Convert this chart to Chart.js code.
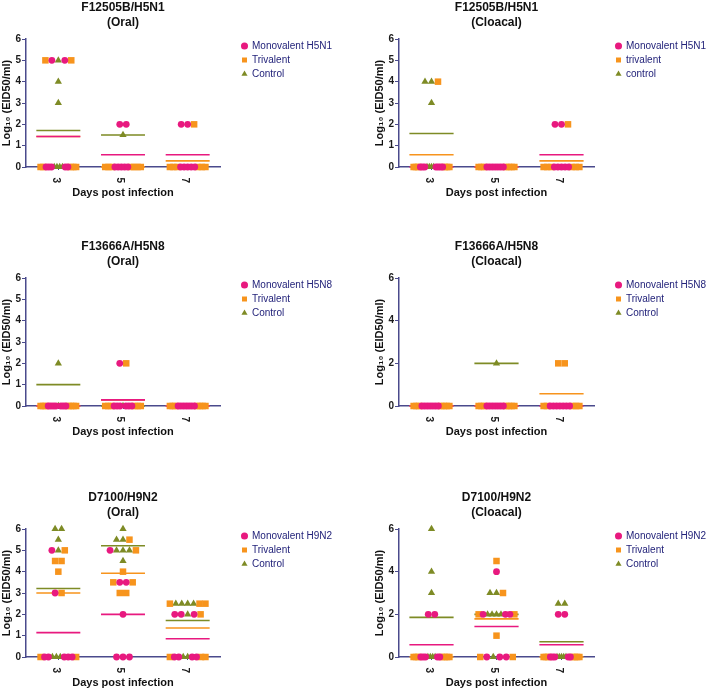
<!DOCTYPE html>
<html>
<head>
<meta charset="utf-8">
<script src="https://cdn.jsdelivr.net/npm/chart.js@4/dist/chart.umd.min.js"></script>
<style>
html,body{margin:0;padding:0;background:#fff;width:708px;height:690px;overflow:hidden;}
.panel{position:absolute;width:354px;height:200px;}
canvas{display:block;}
</style>
</head>
<body>
<div class="panel" style="left:0;top:0"><canvas id="p0" width="354" height="200"></canvas></div>
<div class="panel" style="left:354px;top:0"><canvas id="p1" width="354" height="200"></canvas></div>
<div class="panel" style="left:0;top:239px"><canvas id="p2" width="354" height="200"></canvas></div>
<div class="panel" style="left:354px;top:239px"><canvas id="p3" width="354" height="200"></canvas></div>
<div class="panel" style="left:0;top:490px"><canvas id="p4" width="354" height="200"></canvas></div>
<div class="panel" style="left:354px;top:490px"><canvas id="p5" width="354" height="200"></canvas></div>
<script>
// ---------------- data ----------------
const DAYS = [3, 5, 7];
const Y_TICKS_FULL = [0, 1, 2, 3, 4, 5, 6];
const Y_TICKS_EVEN = [0, 2, 4, 6];
const X_TITLE = 'Days post infection';
const Y_TITLE = 'Log\u2081\u2080 (EID50/ml)';

const TITLES = ['F12505B/H5N1', 'F12505B/H5N1', 'F13666A/H5N8', 'F13666A/H5N8', 'D7100/H9N2', 'D7100/H9N2'];
const ROUTES = ['(Oral)', '(Cloacal)', '(Oral)', '(Cloacal)', '(Oral)', '(Cloacal)'];

const LEGEND_H5N1_ORAL = ['Monovalent H5N1', 'Trivalent', 'Control'];
const LEGEND_H5N1_CLOACAL = ['Monovalent H5N1', 'trivalent', 'control'];
const LEGEND_H5N8 = ['Monovalent H5N8', 'Trivalent', 'Control'];
const LEGEND_H9N2 = ['Monovalent H9N2', 'Trivalent', 'Control'];

// values per bird, grouped by day [day 3, day 5, day 7]
const h5n1OralMono = [[5, 5, 0, 0, 0, 0, 0], [2, 2, 0, 0, 0, 0, 0], [2, 2, 0, 0, 0, 0, 0]];
const h5n1OralTri  = [[5, 5, 0, 0, 0, 0, 0], [0, 0, 0, 0, 0, 0, 0], [2, 0, 0, 0, 0, 0, 0]];
const h5n1OralCtrl = [[5, 4, 3, 0, 0, 0, 0], [1.5], []];

const h5n1CloacalMono = [[0, 0, 0, 0, 0, 0, 0], [0, 0, 0, 0, 0, 0, 0], [2, 2, 0, 0, 0, 0, 0]];
const h5n1CloacalTri  = [[4, 0, 0, 0, 0, 0, 0], [0, 0, 0, 0, 0, 0, 0], [2, 0, 0, 0, 0, 0, 0]];
const h5n1CloacalCtrl = [[4, 4, 3, 0, 0, 0, 0], [], []];

const h5n8OralMono = [[0, 0, 0, 0, 0, 0, 0], [2, 0, 0, 0, 0, 0, 0], [0, 0, 0, 0, 0, 0, 0]];
const h5n8OralTri  = [[0, 0, 0, 0, 0, 0, 0], [2, 0, 0, 0, 0, 0, 0], [0, 0, 0, 0, 0, 0, 0]];
const h5n8OralCtrl = [[2, 0], [0], []];

const h5n8CloacalMono = [[0, 0, 0, 0, 0, 0, 0], [0, 0, 0, 0, 0, 0, 0], [0, 0, 0, 0, 0, 0, 0]];
const h5n8CloacalTri  = [[0, 0, 0, 0, 0, 0, 0], [0, 0, 0, 0, 0, 0, 0], [2, 2, 0, 0, 0, 0, 0]];
const h5n8CloacalCtrl = [[], [2], []];

const h9n2OralMono = [[5, 3, 0, 0, 0, 0, 0], [5, 3.5, 3.5, 2, 0, 0, 0], [2, 2, 2, 0, 0, 0, 0]];
const h9n2OralTri  = [[5, 4.5, 4.5, 4, 3, 0, 0], [5.5, 5, 4, 3.5, 3.5, 3, 3], [2.5, 2.5, 2.5, 2, 0, 0, 0]];
const h9n2OralCtrl = [[6, 6, 5.5, 5, 0, 0, 0], [6, 5.5, 5.5, 5, 5, 5, 4.5], [2.5, 2.5, 2.5, 2.5, 2, 0, 0]];

const h9n2CloacalMono = [[2, 2, 0, 0, 0, 0, 0], [4, 2, 2, 2, 0, 0, 0], [2, 2, 0, 0, 0, 0, 0]];
const h9n2CloacalTri  = [[0, 0, 0, 0, 0, 0, 0], [4.5, 3, 2, 2, 1, 0, 0], [0, 0, 0, 0, 0, 0, 0]];
const h9n2CloacalCtrl = [[6, 4, 3, 0, 0, 0, 0], [3, 3, 2, 2, 2, 2, 0], [2.5, 2.5, 0, 0, 0, 0, 0]];

// ---------------- styling ----------------
const FONT = '"Liberation Sans", Arial, Helvetica, sans-serif';
const COLORS = ['#e8197f', '#f7941d', '#7e8b25'];
const STYLES = ['circle', 'rect', 'triangle'];
const RADII = [3.4, 4.6, 4.2];
const AXIS = '#4a4a8c';
const LEGEND_TEXT = '#23237a';
const STEP = 0.2, MAXW = 1.1, HALF = 0.68;

Chart.defaults.font.family = FONT;

const legendNudge = {
  id: 'legendNudge',
  afterLayout(chart, args, opts) {
    const lg = chart.legend;
    if (!lg) return;
    const dx = opts.dx || 0, dy = opts.dy || 0;
    lg.left += dx; lg.right += dx + (opts.extra || 0); lg.top += dy; lg.bottom += dy;
  }
};

function layoutDay(day, lists) {
  const rows = new Map();
  [2, 0, 1].forEach(s => lists[s].forEach(v => {
    if (!rows.has(v)) rows.set(v, []);
    rows.get(v).push(s);
  }));
  const out = [[], [], []];
  rows.forEach((ser, v) => {
    const n = ser.length;
    const step = n > 1 ? Math.min(STEP, MAXW / (n - 1)) : 0;
    const slots = [];
    if (n % 2 === 1) {
      slots.push(0);
      for (let k = 1; slots.length < n; k++) { slots.push(-k); if (slots.length < n) slots.push(k); }
    } else {
      for (let k = 0; slots.length < n; k++) { slots.push(-(k + 0.5)); if (slots.length < n) slots.push(k + 0.5); }
    }
    ser.forEach((s, i) => out[s].push({ x: day + slots[i] * step, y: v }));
  });
  return out;
}

function meanLine(perDay) {
  const pts = [];
  perDay.forEach((vals, i) => {
    if (!vals.length) return;
    const m = vals.reduce((a, b) => a + b, 0) / vals.length;
    const d = DAYS[i];
    pts.push({ x: d - HALF, y: m }, { x: d + HALF, y: m }, { x: d + HALF, y: null });
  });
  return pts;
}

const PANELS = [
  { id: 'p0', series: [h5n1OralMono, h5n1OralTri, h5n1OralCtrl], labels: LEGEND_H5N1_ORAL, yTicks: Y_TICKS_FULL, col: 0 },
  { id: 'p1', series: [h5n1CloacalMono, h5n1CloacalTri, h5n1CloacalCtrl], labels: LEGEND_H5N1_CLOACAL, yTicks: Y_TICKS_FULL, col: 1 },
  { id: 'p2', series: [h5n8OralMono, h5n8OralTri, h5n8OralCtrl], labels: LEGEND_H5N8, yTicks: Y_TICKS_FULL, col: 0 },
  { id: 'p3', series: [h5n8CloacalMono, h5n8CloacalTri, h5n8CloacalCtrl], labels: LEGEND_H5N8, yTicks: Y_TICKS_EVEN, col: 1 },
  { id: 'p4', series: [h9n2OralMono, h9n2OralTri, h9n2OralCtrl], labels: LEGEND_H9N2, yTicks: Y_TICKS_FULL, col: 0 },
  { id: 'p5', series: [h9n2CloacalMono, h9n2CloacalTri, h9n2CloacalCtrl], labels: LEGEND_H9N2, yTicks: Y_TICKS_EVEN, col: 1 }
];

PANELS.forEach((p, idx) => {
  const pts = [[], [], []];
  DAYS.forEach((d, i) => {
    const o = layoutDay(d, [p.series[0][i], p.series[1][i], p.series[2][i]]);
    for (let s = 0; s < 3; s++) pts[s].push(...o[s]);
  });
  const datasets = [];
  for (let s = 0; s < 3; s++) {
    datasets.push({
      label: p.labels[s], data: pts[s], pointStyle: STYLES[s], pointRadius: RADII[s],
      pointHoverRadius: RADII[s], backgroundColor: COLORS[s], borderColor: COLORS[s],
      borderWidth: 0, order: 1 + s, clip: false
    });
  }
  for (let s = 0; s < 3; s++) {
    datasets.push({
      label: p.labels[s] + ' mean', data: meanLine(p.series[s]), showLine: true, spanGaps: false,
      pointRadius: 0, borderColor: COLORS[s], backgroundColor: COLORS[s], borderWidth: 1.6,
      order: 4 + s, clip: false
    });
  }
  const padL = p.col === 0 ? 0 : 19;
  const padR = p.col === 0 ? 44 : 24;
  new Chart(document.getElementById(p.id), {
    type: 'scatter',
    data: { datasets },
    options: {
      responsive: false, animation: false, devicePixelRatio: 1, events: [],
      layout: { padding: { left: padL, right: padR, top: 0, bottom: 0 } },
      scales: {
        x: {
          type: 'linear', min: 2.0, max: 8.0,
          afterBuildTicks: sc => { sc.ticks = DAYS.map(v => ({ value: v })); },
          afterFit: sc => { sc.height = 33; },
          ticks: { minRotation: -90, maxRotation: -90, autoSkip: false, padding: 13, labelOffset: -3,
            font: { size: 10, weight: 'bold' }, color: '#1a1a1a', callback: v => String(v) },
          grid: { display: true, drawOnChartArea: false, drawTicks: true, tickLength: 3, color: AXIS, lineWidth: 1 },
          border: { display: true, color: AXIS, width: 1.5 },
          title: { display: true, text: X_TITLE, color: '#111', font: { size: 11, weight: 'bold' }, padding: { top: 0, bottom: 0 } }
        },
        y: {
          type: 'linear', min: 0, max: 6,
          afterBuildTicks: sc => { sc.ticks = p.yTicks.map(v => ({ value: v })); },
          afterFit: sc => { sc.width = 26; },
          ticks: { padding: 1, font: { size: 10, weight: 'bold' }, color: '#1a1a1a', callback: v => String(v) },
          grid: { display: true, drawOnChartArea: false, drawTicks: true, tickLength: 4, color: AXIS, lineWidth: 1 },
          border: { display: true, color: AXIS, width: 1.5 },
          title: { display: true, text: Y_TITLE, color: '#111', font: { size: 11, weight: 'bold' }, padding: { top: 0, bottom: 0 } }
        }
      },
      plugins: {
        title: { display: true, fullSize: false, text: [TITLES[idx], ROUTES[idx]], color: '#111',
          font: { size: 12, weight: 'bold', lineHeight: 1.25 }, padding: { top: 0, bottom: 9 } },
        legend: { display: true, position: 'right', align: 'start', fullSize: false, maxWidth: 90,
          labels: { usePointStyle: true, boxWidth: 5, boxHeight: 5, padding: 4, color: LEGEND_TEXT,
            font: { size: 10, lineHeight: 1.2 }, filter: item => item.datasetIndex < 3 } },
        tooltip: { enabled: false },
        legendNudge: { dx: 18, dy: -2, extra: 60 }
      }
    },
    plugins: [legendNudge]
  });
});
</script>
</body>
</html>
